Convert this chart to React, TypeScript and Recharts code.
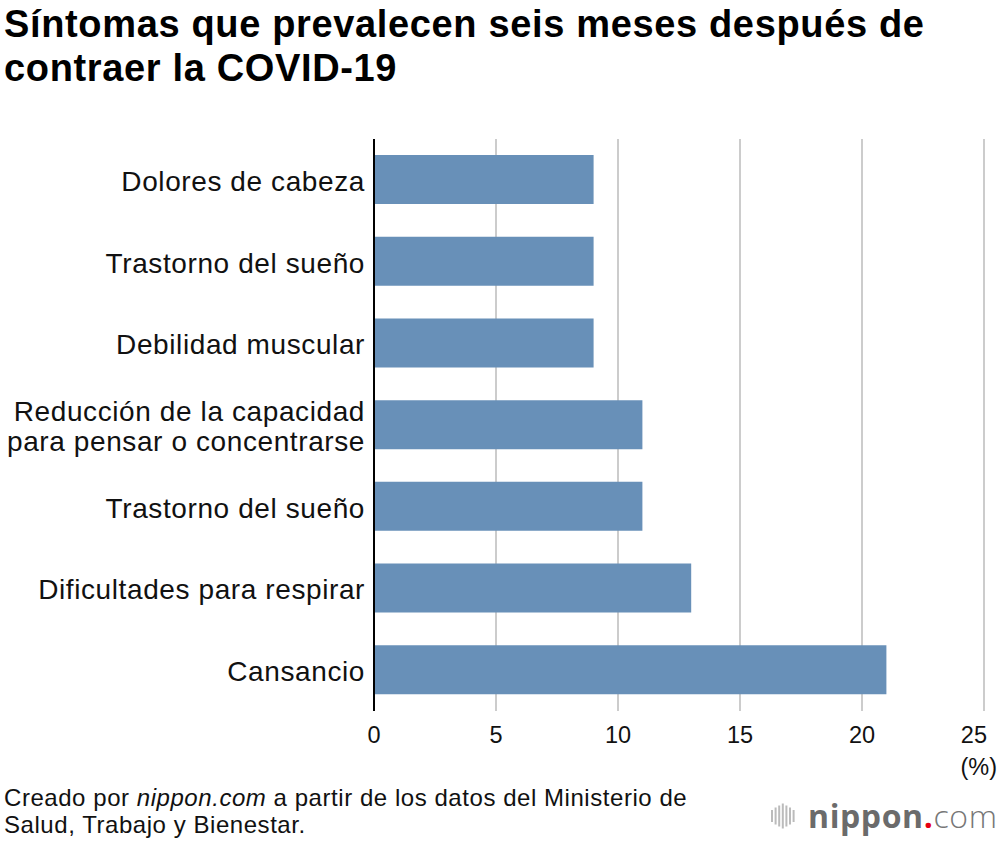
import { Bar, BarChart, CartesianGrid, XAxis, YAxis } from "recharts";

const categories = [
	"Dolores de cabeza",
	"Trastorno del sueño",
	"Debilidad muscular",
	"Reducción de la capacidad\npara pensar o concentrarse",
	"Trastorno del sueño",
	"Dificultades para respirar",
	"Cansancio",
];
const values = [9, 9, 9, 11, 11, 13, 21];
const xTicks = [0, 5, 10, 15, 20, 25];

const rows = categories.map((name, i) => ({ key: String(i), name, value: values[i] }));

const FONT = "'Liberation Sans', Arial, Helvetica, sans-serif";

function YTick(props: any) {
	const { x, y, payload } = props;
	const lines = categories[Number(payload.value)].split("\n");
	const lh = 30;
	const first = y - ((lines.length - 1) * lh) / 2;
	return (
		<text
			x={x - 9}
			textAnchor="end"
			fontFamily={FONT}
			fontSize={28}
			letterSpacing={0.6}
			fill="#111"
		>
			{lines.map((l, i) => (
				<tspan key={i} x={x - 9} y={first + i * lh + 11}>
					{l}
				</tspan>
			))}
		</text>
	);
}

function XTick(props: any) {
	const { x, y, payload } = props;
	const last = payload.value === xTicks[xTicks.length - 1];
	return (
		<text
			x={last ? x + 3 : x}
			y={y + 32}
			textAnchor={last ? "end" : "middle"}
			fontFamily={FONT}
			fontSize={23.5}
			fill="#111"
		>
			{payload.value}
		</text>
	);
}

function Logo() {
	const bars = [12, 17, 21, 25, 21, 17, 12];
	return (
		<div
			style={{
				position: "absolute",
				left: 771,
				top: 797,
				display: "flex",
				alignItems: "center",
			}}
		>
			<svg width={26} height={30} style={{ marginRight: 11 }}>
				{bars.map((h, i) => (
					<rect key={i} x={i * 3.6} y={15 - h / 2} width={2} height={h} fill="#bbb" />
				))}
			</svg>
			<span
				style={{
					fontFamily: "'Open Sans', sans-serif",
					fontSize: 32,
					lineHeight: "38px",
					color: "#6b6b6b",
					letterSpacing: 0.6,
				}}
			>
				<span style={{ fontWeight: 700 }}>nippon</span>
				<span style={{ color: "#e60012", fontWeight: 700 }}>.</span>
				<span style={{ fontWeight: 300, color: "#777" }}>com</span>
			</span>
		</div>
	);
}

export default function App() {
	return (
		<div
			style={{
				position: "absolute",
				left: 0,
				top: 0,
				width: 1000,
				height: 842,
				background: "#fff",
				overflow: "hidden",
				fontFamily: FONT,
			}}
		>
			<div
				style={{
					position: "absolute",
					left: 4,
					top: 2,
					fontSize: 38,
					fontWeight: 700,
					lineHeight: "44px",
					letterSpacing: 0.65,
					color: "#000",
				}}
			>
				Síntomas que prevalecen seis meses después de
				<br />
				contraer la COVID-19
			</div>

			<div style={{ position: "absolute", left: 0, top: 0 }}>
				<BarChart
					width={1000}
					height={760}
					data={rows}
					layout="vertical"
					margin={{ top: 139, right: 16, bottom: 0, left: 0 }}
				>
					<CartesianGrid horizontal={false} stroke="#cccccc" strokeWidth={2} />
					<XAxis
						type="number"
						domain={[0, 25]}
						ticks={xTicks}
						axisLine={false}
						tickLine={false}
						tickSize={0}
						tickMargin={0}
						height={49}
						tick={<XTick />}
						interval={0}
					/>
					<Bar dataKey="value" fill="#6890b8" barSize={49} isAnimationActive={false} />
					<YAxis
						type="category"
						dataKey="key"
						width={374}
						axisLine={{ stroke: "#000", strokeWidth: 2 }}
						tickLine={false}
						tickSize={0}
						tickMargin={0}
						tick={<YTick />}
						interval={0}
					/>
				</BarChart>
			</div>

			<div
				style={{
					position: "absolute",
					right: 3,
					top: 752,
					fontSize: 23.5,
					lineHeight: "30px",
					color: "#111",
				}}
			>
				(%)
			</div>

			<div
				style={{
					position: "absolute",
					left: 4,
					top: 784,
					fontSize: 24,
					lineHeight: "27px",
					letterSpacing: 0.55,
					color: "#111",
				}}
			>
				Creado por <i>nippon.com</i> a partir de los datos del Ministerio de
				<br />
				Salud, Trabajo y Bienestar.
			</div>

			<Logo />
		</div>
	);
}
